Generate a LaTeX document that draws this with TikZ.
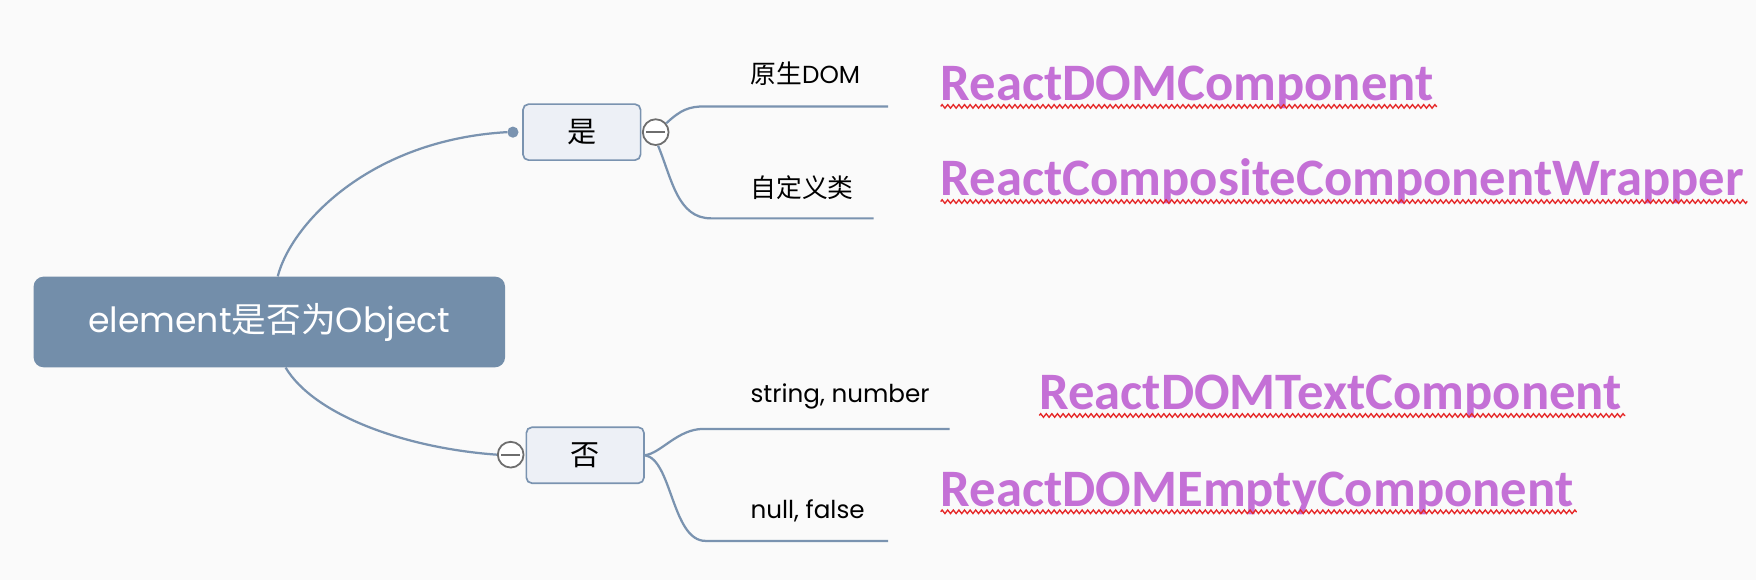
\documentclass[tikz,border=0pt]{standalone}
\usepackage{fontspec}
\usetikzlibrary{decorations.pathmorphing}
\newfontfamily\latf{Poppins}
\newfontfamily\cjkf{Noto Sans CJK SC}
\newfontfamily\calf{Carlito}
\definecolor{bgcol}{RGB}{250,250,250}
\definecolor{rootfill}{RGB}{115,142,170}
\definecolor{boxfill}{RGB}{237,240,246}
\definecolor{edgecol}{RGB}{122,147,176}
\definecolor{ringcol}{RGB}{110,110,110}
\definecolor{purp}{RGB}{196,112,214}
\definecolor{wavecol}{RGB}{230,40,40}
\begin{document}
\begin{tikzpicture}[x=1pt,y=-1pt,
 conn/.style={draw=edgecol, line width=2pt},
 rootbox/.style={fill=rootfill, rounded corners=9pt, minimum width=421pt, minimum height=81pt, text=white, inner sep=0pt},
 subbox/.style={fill=boxfill, draw=edgecol, line width=1.5pt, rounded corners=5pt, minimum width=105pt, minimum height=50pt, inner sep=0pt, font=\cjkf\fontsize{26}{30}\selectfont},
 togglebox/.style={circle, draw=ringcol, fill=white, line width=1.6pt, minimum size=23pt, inner sep=0pt},
 dotnode/.style={circle, fill=edgecol, minimum size=10pt, inner sep=0pt},
 leaf/.style={anchor=west, inner sep=0pt, font=\fontsize{22}{26}\selectfont},
 comp/.style={anchor=base west, inner sep=0pt, text=purp, font=\calf\bfseries\fontsize{47}{52}\selectfont},
 squiggle/.style={draw=wavecol, line width=1.2pt, decorate, decoration={zigzag, segment length=5pt, amplitude=1.6pt}}]
\useasboundingbox (0,0) rectangle (1568,518);
\fill[bgcol] (0,0) rectangle (1568,518);

% nodes
\node[rootbox] (root) at (240.5,287.5) {\fontsize{31}{36}\selectfont\latf element\cjkf 是否为\latf Object};
\node[subbox] (yes) at (519.5,118) {是};
\node[subbox] (no) at (522.5,406.5) {否};
\node[dotnode] (dot) at (458,118) {};
\node[togglebox] (c1) at (585.5,118) {};
\node[togglebox] (c2) at (456,406) {};
\draw[draw=ringcol, line width=1.8pt] ([xshift=4pt]c1.west) -- ([xshift=-4pt]c1.east);
\draw[draw=ringcol, line width=1.8pt] ([xshift=4pt]c2.west) -- ([xshift=-4pt]c2.east);

% leaf end points
\coordinate (e1) at (793,95);
\coordinate (e2) at (780,195);
\coordinate (e3) at (848,383);
\coordinate (e4) at (793,483);

% leaf labels
\node[leaf] (l1) at (670,66) {{\cjkf\fontsize{23}{26}\selectfont 原生}\latf DOM};
\node[leaf] (l2) at (670,168) {\cjkf\fontsize{23}{26}\selectfont 自定义类};
\node[leaf] (l3) at (670,354) {\latf string, number};
\node[leaf] (l4) at (670,456) {\latf null, false};

% connectors
\draw[conn] ([xshift=7.5pt]root.north) .. controls (260,200) and (330,125) .. (dot.west);
\draw[conn] ([xshift=14.5pt]root.south) .. controls (280,370) and (360,400) .. (c2.west);
\draw[conn] (c1.40) .. controls (608,98) and (615,95) .. (630,95) -- (e1);
\draw[conn] (c1.-80) .. controls (600,160) and (605,195) .. (635,195) -- (e2);
\draw[conn] (no.east) .. controls (590,405) and (605,383) .. (628,383) -- (e3);
\draw[conn] (no.east) .. controls (600,410) and (600,483) .. (630,483) -- (e4);

% component names
\node[comp] (p1) at (840,90) {ReactDOMComponent};
\node[comp] (p2) at (840,175) {ReactCompositeComponentWrapper};
\node[comp] (p3) at (928,366) {ReactDOMTextComponent};
\node[comp] (p4) at (840,452) {ReactDOMEmptyComponent};
\foreach \p in {p1,p2,p3,p4}{
  \draw[squiggle] ([yshift=-5pt]\p.base west) -- ([yshift=-5pt,xshift=3pt]\p.base east);
}
\end{tikzpicture}
\end{document}
